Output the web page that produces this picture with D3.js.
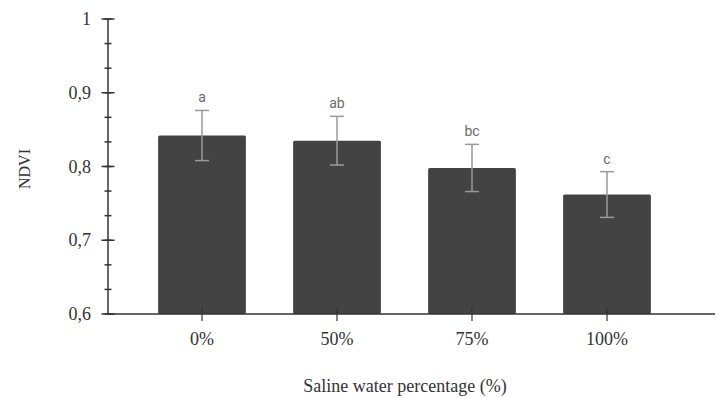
<!DOCTYPE html>
<html>
<head>
<meta charset="utf-8">
<script src="https://cdn.jsdelivr.net/npm/d3@7"></script>
<style>
  body { margin: 0; background: #fff; }
  svg { display: block; }
</style>
</head>
<body>
<div id="chart"></div>
<script>
const categories = ["0%", "50%", "75%", "100%"];
const means = [0.842, 0.835, 0.798, 0.762];
const errors = [0.034, 0.033, 0.032, 0.031];
const letters = ["a", "ab", "bc", "c"];
const yTicks = [0.6, 0.7, 0.8, 0.9, 1];

const width = 716, height = 398;
const barColor = "#434343";
const errColor = "#9a9a9a";
const axisColor = "#333";

const svg = d3.select("#chart").append("svg")
  .attr("width", width)
  .attr("height", height);

const x = d3.scaleBand()
  .domain(categories)
  .range([134.5, 674.5])
  .paddingInner(0.35)
  .paddingOuter(0.175);

const y = d3.scaleLinear().domain([0.6, 1]).range([314, 19]);
const axisX = 108;

// bars
svg.append("g")
  .selectAll("rect")
  .data(means)
  .enter()
  .append("rect")
  .attr("x", (d, i) => x(categories[i]))
  .attr("y", (d) => y(d))
  .attr("width", x.bandwidth())
  .attr("height", (d) => y(0.6) - y(d))
  .attr("rx", 1.5)
  .attr("fill", barColor);

// error bars
let eb = svg.append("g")
  .attr("stroke", errColor)
  .attr("stroke-width", 1.5)
  .selectAll("g")
  .data(means)
  .enter()
  .append("g")
  .attr("transform", (d, i) => `translate(${x(categories[i]) + x.bandwidth() / 2},0)`);
eb.append("line")
  .attr("y1", (d, i) => y(d + errors[i]))
  .attr("y2", (d, i) => y(d - errors[i]));
eb.append("line")
  .attr("x1", -7).attr("x2", 7)
  .attr("y1", (d, i) => y(d + errors[i]))
  .attr("y2", (d, i) => y(d + errors[i]));
eb.append("line")
  .attr("x1", -7).attr("x2", 7)
  .attr("y1", (d, i) => y(d - errors[i]))
  .attr("y2", (d, i) => y(d - errors[i]));

// significance letters
svg.append("g")
  .selectAll("text")
  .data(means)
  .enter()
  .append("text")
  .attr("x", (d, i) => x(categories[i]) + x.bandwidth() / 2)
  .attr("y", (d, i) => y(d + errors[i]) - 8)
  .attr("text-anchor", "middle")
  .attr("font-family", "Roboto, sans-serif")
  .attr("font-size", 14)
  .attr("fill", "#6a6a6a")
  .text((d, i) => letters[i]);

// y axis
const fmt = (d) => (d === 1 ? "1" : d3.format(".1f")(d).replace(".", ","));
const yAxis = svg.append("g").attr("transform", `translate(${axisX},0)`);
yAxis.append("line")
  .attr("y1", y(1)).attr("y2", y(0.6))
  .attr("stroke", axisColor).attr("stroke-width", 1.5);
const minor = d3.range(0.6, 1.0001, 0.1 / 3);
yAxis.selectAll(".minor")
  .data(minor)
  .enter()
  .append("line")
  .attr("class", "minor")
  .attr("x1", -3.5).attr("x2", 3.5)
  .attr("y1", (d) => y(d)).attr("y2", (d) => y(d))
  .attr("stroke", axisColor).attr("stroke-width", 1.5);
yAxis.selectAll(".major")
  .data(yTicks)
  .enter()
  .append("line")
  .attr("class", "major")
  .attr("x1", -6.5).attr("x2", 6.5)
  .attr("y1", (d) => y(d)).attr("y2", (d) => y(d))
  .attr("stroke", axisColor).attr("stroke-width", 1.5);
yAxis.selectAll("text")
  .data(yTicks)
  .enter()
  .append("text")
  .attr("x", -17)
  .attr("y", (d) => y(d))
  .attr("dy", "0.34em")
  .attr("text-anchor", "end")
  .attr("font-family", "'Liberation Serif', 'Times New Roman', serif")
  .attr("font-size", 18)
  .attr("fill", "#333")
  .text(fmt);

// x axis
const xAxis = svg.append("g");
xAxis.append("line")
  .attr("x1", axisX).attr("x2", 715)
  .attr("y1", y(0.6)).attr("y2", y(0.6))
  .attr("stroke", axisColor).attr("stroke-width", 1.5);
xAxis.selectAll(".tick")
  .data(categories)
  .enter()
  .append("line")
  .attr("class", "tick")
  .attr("x1", (d) => x(d) + x.bandwidth() / 2)
  .attr("x2", (d) => x(d) + x.bandwidth() / 2)
  .attr("y1", y(0.6) - 7).attr("y2", y(0.6) + 7)
  .attr("stroke", axisColor).attr("stroke-width", 1.2);
xAxis.selectAll("text")
  .data(categories)
  .enter()
  .append("text")
  .attr("x", (d) => x(d) + x.bandwidth() / 2)
  .attr("y", 345)
  .attr("text-anchor", "middle")
  .attr("font-family", "'Liberation Serif', 'Times New Roman', serif")
  .attr("font-size", 18)
  .attr("fill", "#333")
  .text((d) => d);

// axis titles
svg.append("text")
  .attr("x", 405)
  .attr("y", 392)
  .attr("text-anchor", "middle")
  .attr("font-family", "'Liberation Serif', 'Times New Roman', serif")
  .attr("font-size", 18)
  .attr("fill", "#333")
  .text("Saline water percentage (%)");

svg.append("text")
  .attr("transform", "translate(30,169) rotate(-90)")
  .attr("text-anchor", "middle")
  .attr("font-family", "'Liberation Serif', 'Times New Roman', serif")
  .attr("font-size", 16)
  .attr("fill", "#333")
  .text("NDVI");
</script>
</body>
</html>
